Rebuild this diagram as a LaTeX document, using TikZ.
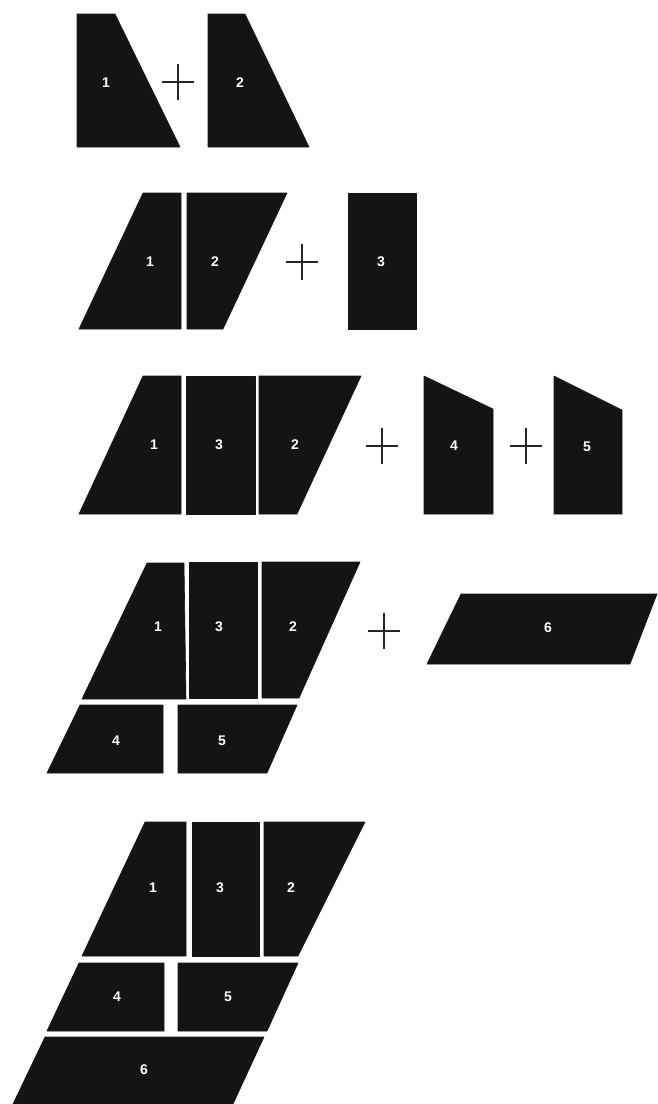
\documentclass[tikz,border=0pt]{standalone}
\usepackage{fontspec}
\setmainfont{Liberation Sans}
\begin{document}
\begin{tikzpicture}[x=1pt,y=-1pt,
  piece/.style={fill=black!92, draw=black!92, line width=0.6pt, line join=round},
  lab/.style={text=white, font=\fontsize{14}{14}\selectfont\bfseries, inner sep=0pt},
  plusline/.style={line width=2.7pt, black!85}]
\fill[white] (0,0) rectangle (657,1104);
\useasboundingbox (0,0) rectangle (657,1104);
\newcommand{\plusat}[2]{\draw[plusline] (#1-16,#2) -- (#1+16,#2); \draw[plusline] (#1,#2-18) -- (#1,#2+18);}
% Row 1
\fill[piece] (77,14) -- (115,14) -- (180,147) -- (77,147) -- cycle;
\node[lab] (r1a) at (106,83) {1};
\plusat{178}{82}
\fill[piece] (208,14) -- (245,14) -- (309,147) -- (208,147) -- cycle;
\node[lab] (r1b) at (240,83) {2};
% Row 2
\fill[piece] (143,193) -- (181,193) -- (181,329) -- (79,329) -- cycle;
\fill[piece] (187,193) -- (287,193) -- (223,329) -- (187,329) -- cycle;
\node[lab] (r2a) at (150,262) {1};
\node[lab] (r2b) at (215,262) {2};
\plusat{302}{262}
\fill[piece] (348,193) rectangle (416,329);
\node[lab] (r2c) at (381,262) {3};
% Row 3
\fill[piece] (143,376) -- (181,376) -- (181,514) -- (79,514) -- cycle;
\fill[piece] (186,376) rectangle (255,514);
\fill[piece] (259,376) -- (361,376) -- (297,514) -- (259,514) -- cycle;
\node[lab] (r3a) at (154,445) {1};
\node[lab] (r3c) at (219,445) {3};
\node[lab] (r3b) at (295,445) {2};
\plusat{382}{446}
\fill[piece] (424,376) -- (493,409) -- (493,514) -- (424,514) -- cycle;
\node[lab] (r3d) at (454,446) {4};
\plusat{526}{446}
\fill[piece] (554,376) -- (622,410) -- (622,514) -- (554,514) -- cycle;
\node[lab] (r3e) at (587,447) {5};
% Row 4
\fill[piece] (147,563) -- (184,563) -- (186,699) -- (82,699) -- cycle;
\fill[piece] (189,562) rectangle (257,698);
\fill[piece] (262,562) -- (360,562) -- (299,698) -- (262,698) -- cycle;
\node[lab] (r4a) at (158,627) {1};
\node[lab] (r4c) at (219,627) {3};
\node[lab] (r4b) at (293,627) {2};
\fill[piece] (80,705) -- (163,705) -- (163,773) -- (47,773) -- cycle;
\fill[piece] (178,705) -- (297,705) -- (267,773) -- (178,773) -- cycle;
\node[lab] (r4d) at (116,741) {4};
\node[lab] (r4e) at (222,741) {5};
\plusat{384}{631}
\fill[piece] (461,594) -- (657,594) -- (630,664) -- (427,664) -- cycle;
\node[lab] (r4f) at (548,628) {6};
% Row 5
\fill[piece] (145,822) -- (186,822) -- (186,956) -- (82,956) -- cycle;
\fill[piece] (192,822) rectangle (259,956);
\fill[piece] (264,822) -- (365,822) -- (298,956) -- (264,956) -- cycle;
\node[lab] (r5a) at (153,888) {1};
\node[lab] (r5c) at (220,888) {3};
\node[lab] (r5b) at (291,888) {2};
\fill[piece] (79,963) -- (164,963) -- (164,1031) -- (47,1031) -- cycle;
\fill[piece] (178,963) -- (298,963) -- (267,1031) -- (178,1031) -- cycle;
\node[lab] (r5d) at (117,997) {4};
\node[lab] (r5e) at (228,997) {5};
\fill[piece] (45,1037) -- (264,1037) -- (233,1104) -- (13,1104) -- cycle;
\node[lab] (r5f) at (144,1070) {6};
\end{tikzpicture}
\end{document}
